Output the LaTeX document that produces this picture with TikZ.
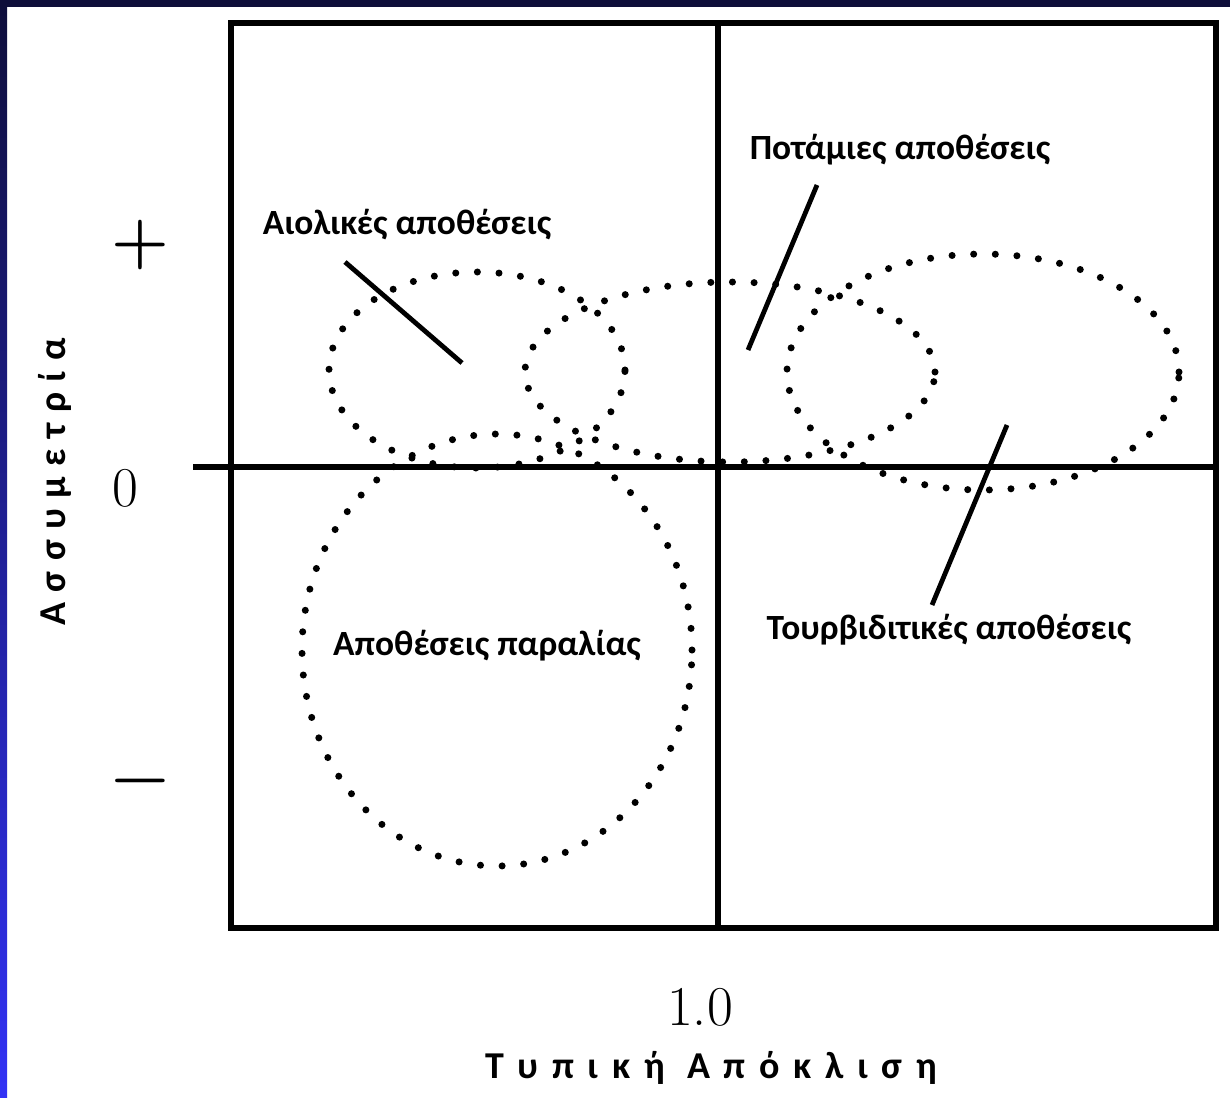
\documentclass[tikz,border=0pt]{standalone}
\usepackage{fontspec}
\newfontfamily\labelfont{Carlito}
\definecolor{slidenavy}{RGB}{14,14,58}
\definecolor{slideblue}{RGB}{50,50,245}

\begin{document}
\begin{tikzpicture}[
  frame/.style={line width=3.6pt},
  field/.style={line width=5pt,line cap=round,dash pattern=on 0pt off 15.4pt},
  lead/.style={line width=3.4pt},
  lbl/.style={font=\labelfont\fontsize{25.2}{29}\selectfont\bfseries,inner sep=0pt},
  tick/.style={font=\fontsize{40}{40}\selectfont,inner sep=0pt},
  sign/.style={font=\fontsize{47}{47}\selectfont\bfseries,inner sep=0pt},
  axlbl/.style={font=\labelfont\fontsize{27}{30}\selectfont\bfseries\addfontfeature{LetterSpace=28},inner sep=0pt}]
% page and slide edges
\fill[white] (0.000,0.000) rectangle (30.750,-27.425);
\useasboundingbox (0.000,0.000) rectangle (30.750,-27.425);
\shade[top color=slidenavy,bottom color=slideblue] (0.000,0.000) rectangle (0.175,-27.425);
\fill[slidenavy] (0.000,0.000) rectangle (30.750,-0.175);
% frame and axes
\draw[frame] (5.775,-0.575) rectangle (30.400,-23.200);
\draw[frame] (17.950,-0.575) -- (17.950,-23.200);
\draw[frame] (4.825,-11.675) -- (30.400,-11.675);
% fields
\draw[field] (11.925,-9.250) ellipse (3.700 and 2.450);
\draw[field] (18.250,-9.300) ellipse (5.125 and 2.250);
\draw[field] (24.575,-9.300) ellipse (4.900 and 2.950);
\draw[field] (12.425,-16.250) ellipse (4.875 and 5.400);
% labels
\node[lbl] (aeol) at (10.175,-5.625) {Αιολικές αποθέσεις};
\node[lbl] (fluv) at (22.500,-3.750) {Ποτάμιες αποθέσεις};
\node[lbl] (beach) at (12.175,-16.150) {Αποθέσεις παραλίας};
\node[lbl] (turb) at (23.725,-15.750) {Τουρβιδιτικές αποθέσεις};
% leader lines
\coordinate (aeolA) at (8.625,-6.550);
\coordinate (aeolB) at (11.550,-9.075);
\coordinate (fluvA) at (20.425,-4.625);
\coordinate (fluvB) at (18.700,-8.750);
\coordinate (turbA) at (25.175,-10.625);
\coordinate (turbB) at (23.300,-15.125);
\draw[lead] (aeolA) -- (aeolB);
\draw[lead] (fluvA) -- (fluvB);
\draw[lead] (turbA) -- (turbB);
% axis ticks and titles
\node[sign] (plus) at (3.500,-6.125) {+};
\node[tick] (zero) at (3.125,-12.200) {0};
\node[sign] (minus) at (3.500,-19.700) {−};
\node[tick] (one) at (17.500,-25.175) {1.0};
\node[axlbl,rotate=90] (ytitle) at (1.375,-12.050) {Ασσυμετρία};
\node[axlbl,font=\labelfont\fontsize{27}{30}\selectfont\bfseries\addfontfeature{LetterSpace=36}] (xtitle) at (17.775,-26.700) {Τυπική Απόκλιση};
\end{tikzpicture}
\end{document}
